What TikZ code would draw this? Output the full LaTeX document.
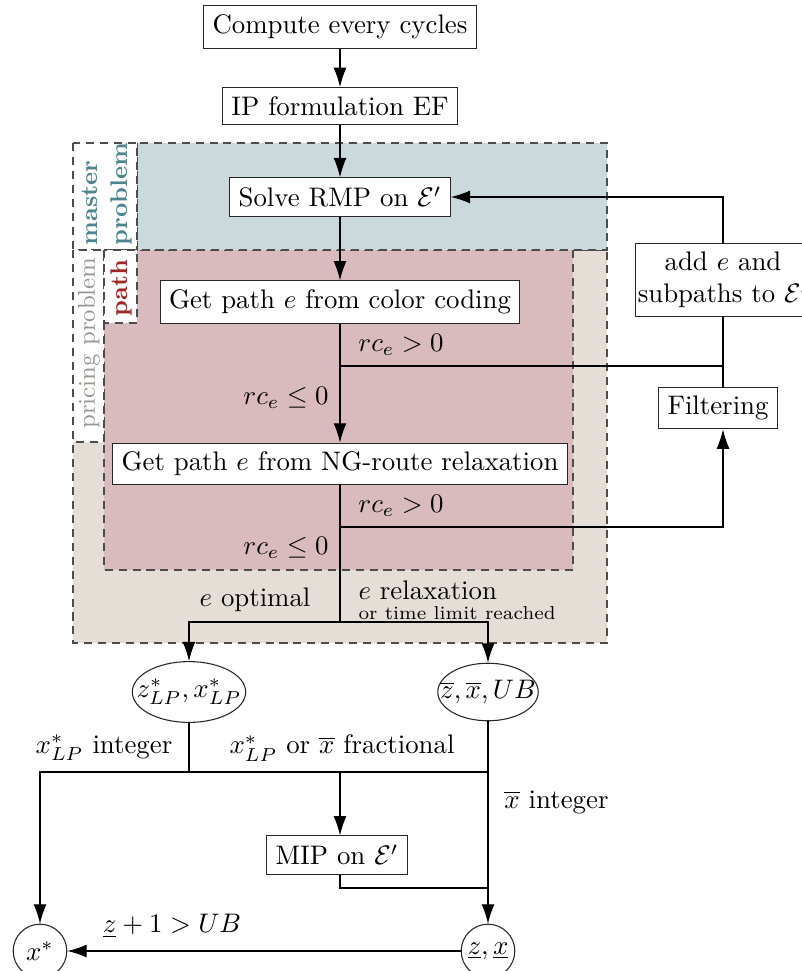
\documentclass[tikz,border=0pt]{standalone}
\usetikzlibrary{shapes.geometric,arrows.meta}

\definecolor{masterbg}{RGB}{201,217,220}
\definecolor{pathbg}{RGB}{218,187,189}
\definecolor{pricebg}{RGB}{228,222,215}
\definecolor{mastertxt}{RGB}{78,132,142}
\definecolor{pathtxt}{RGB}{158,38,38}
\definecolor{pricetxt}{RGB}{150,150,144}

\begin{document}
\begin{tikzpicture}[x=0.373pt, y=-0.373pt, >={Latex[length=7.2pt,width=4.8pt]},
  box/.style={draw=black!85, fill=white, inner sep=3.3pt},
  oval/.style={draw=black!85, ellipse, inner xsep=-4.6pt, inner ysep=3.2pt},
  disc/.style={draw=black!85, circle, inner sep=1pt, minimum size=20pt},
  zone/.style={draw=black!70, dash pattern=on 3pt off 2.2pt},
  tag/.style={zone, fill=white}]

  % --- frame ---
  \useasboundingbox (0,0) rectangle (801,971);

  % 1. background zones and their tags
  \filldraw[zone, fill=pricebg] (73,250) rectangle (607,643);
  \filldraw[zone, fill=pathbg] (104,250) rectangle (573,570);
  \filldraw[zone, fill=masterbg] (137,143) rectangle (607,250);
  \filldraw[tag] (73,143) rectangle (137,250);
  \filldraw[tag] (73,250) rectangle (104,442);
  \filldraw[tag] (104,250) rectangle (137,323);
  \node[rotate=90, align=left, text=mastertxt, font=\small\bfseries] (mastertag) at (107,194) {master\\problem};
  \node[rotate=90, text=pricetxt, font=\small] (pricetag) at (89,343) {pricing problem};
  \node[rotate=90, text=pathtxt, font=\small\bfseries] (pathtag) at (121,288) {path};

  % 2. steps
  \node[box] (cycles) at (340,27) {Compute every cycles};
  \node[box] (ipf) at (340,106) {IP formulation EF};
  \node[box] (rmp) at (340,197) {Solve RMP on $\mathcal{E}'$};
  \node[box] (cc) at (340,302) {Get path $e$ from color coding};
  \node[box] (ng) at (340,464) {Get path $e$ from NG-route relaxation};
  \node[box, inner xsep=0.8pt, align=center] (addp) at (723,280) {add $e$ and\\subpaths to $\mathcal{E}'$};
  \node[box] (filt) at (718,408) {Filtering};
  \node[oval] (lp) at (189,692) {$z^*_{LP}, x^*_{LP}$};
  \node[oval] (ub) at (488,692) {$\overline{z}, \overline{x}, UB$};
  \node[box] (mip) at (337,855) {MIP on $\mathcal{E}'$};
  \node[disc] (xstar) at (40,951) {$x^*$};
  \node[disc] (lb) at (488,951) {$\underline{z}, \underline{x}$};

  % branch points
  \coordinate (riser) at (723,0);
  \coordinate (cut1) at (340,366);
  \coordinate (cut2) at (340,527);
  \coordinate (fork) at (340,622);
  \coordinate (bar) at (40,772);
  \coordinate (back) at (488,888);

  % 3. connectors
  \draw[->] (cycles) -- (ipf);
  \draw[->] (ipf) -- (rmp);
  \draw[->] (rmp) -- (cc);
  \draw[->] (cc) -- (ng);
  \draw (cut1) -- (cut1 -| riser);
  \draw[->] (cut2) -| (riser |- filt.south);
  \draw (riser |- filt.north) -- (riser |- addp.south);
  \draw[->] (addp.north) |- (rmp.east);
  \draw (ng) -- (fork);
  \draw[->] (fork) -| (lp);
  \draw[->] (fork) -| (ub);
  \draw (lp) -- (lp |- bar);
  \draw[->] (ub |- bar) -- (bar) -- (xstar);
  \draw[->] (fork |- bar) -- (fork |- mip.north);
  \draw (fork |- mip.south) |- (back);
  \draw[->] (ub) -- (lb);
  \draw[->] (lb) -- (xstar);

  % 4. branch labels
  \node (gt1) at (401,345) {$rc_e > 0$};
  \node (le1) at (286,398) {$rc_e \leq 0$};
  \node (gt2) at (401,506) {$rc_e > 0$};
  \node (le2) at (286,548) {$rc_e \leq 0$};
  \node (opt) at (255,600) {$e$ optimal};
  \node[anchor=west, align=left, inner sep=0pt] (relax) at (358,600)
    {$e$ relaxation\\[-4.5pt]{\scriptsize or time limit reached}};
  \node (intlp) at (104,748) {$x^*_{LP}$ integer};
  \node (frac) at (342,748) {$x^*_{LP}$ or $\overline{x}$ fractional};
  \node[anchor=west] (intub) at (495,802) {$\overline{x}$ integer};
  \node (cmp) at (172,926) {$\underline{z} + 1 > UB$};

\end{tikzpicture}
\end{document}
